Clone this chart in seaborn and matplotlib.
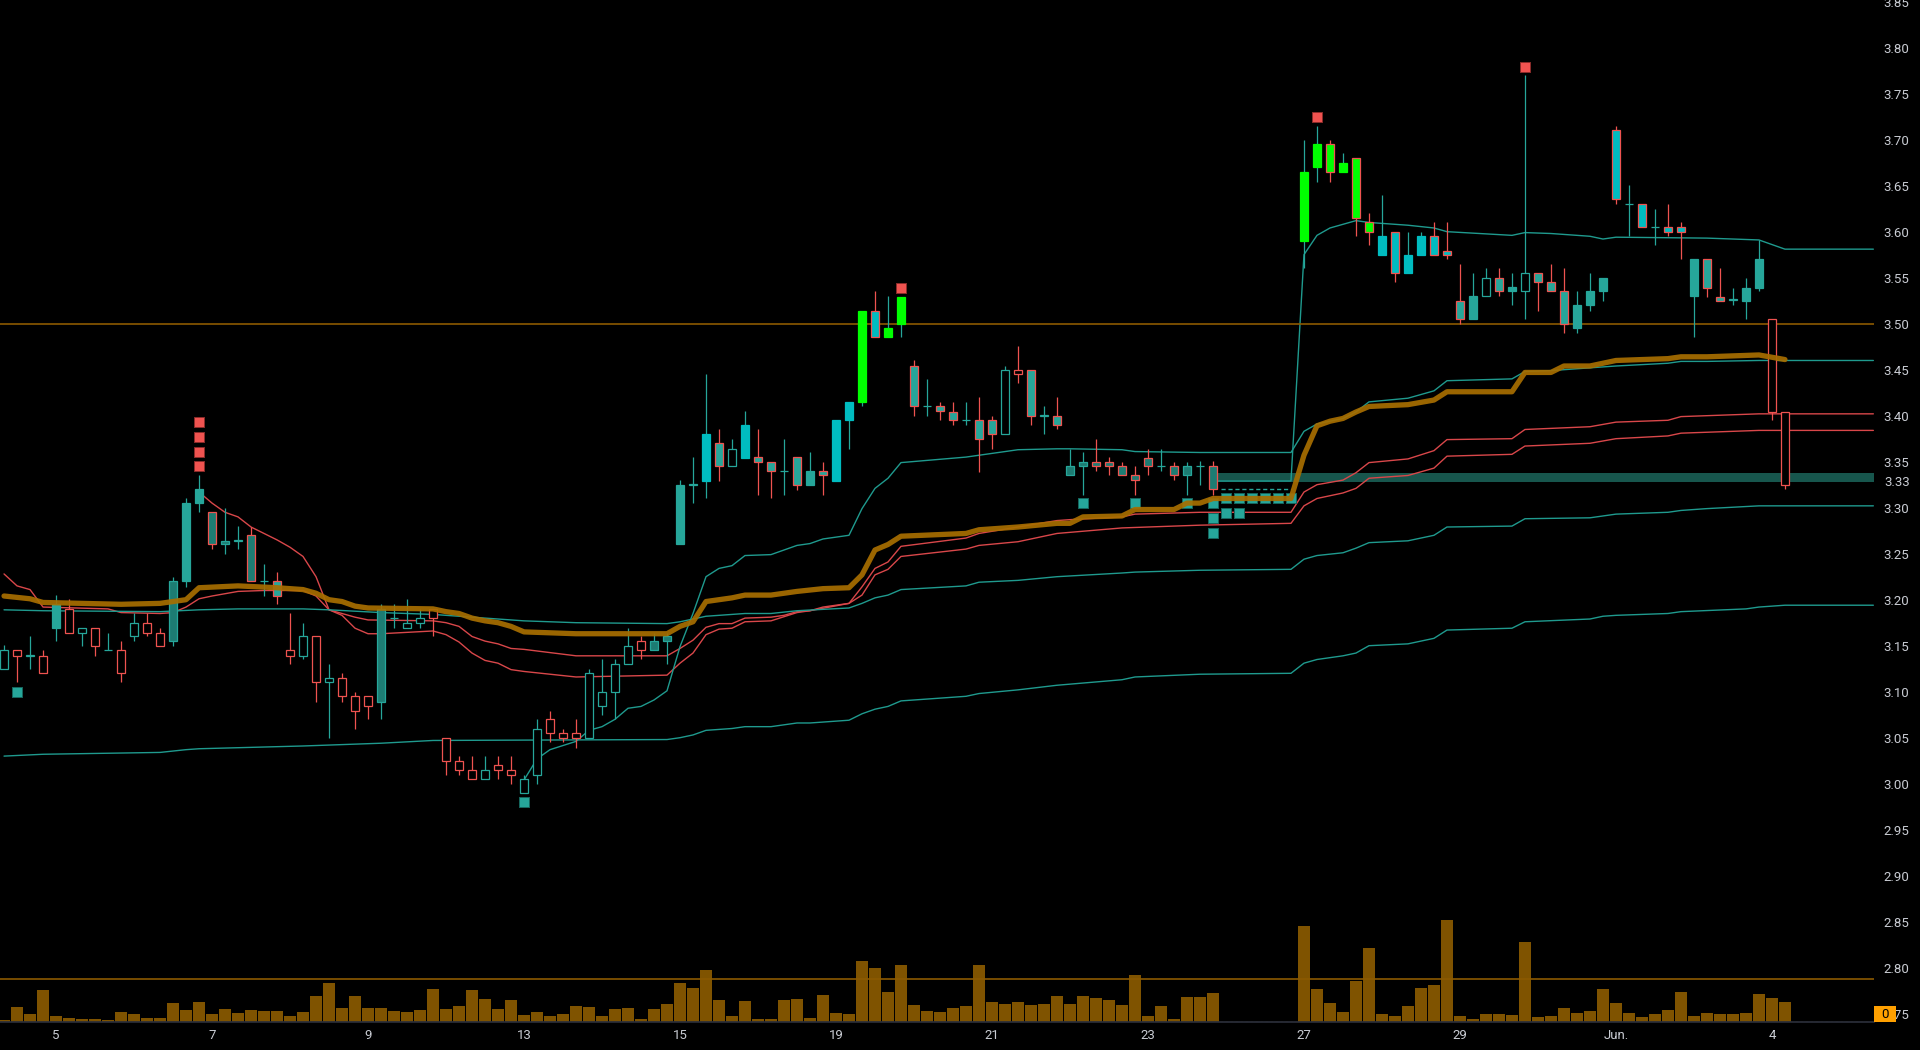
import numpy as np
import pandas as pd
import matplotlib.pyplot as plt
import seaborn as sns
from matplotlib.patches import Rectangle

# bar numbers (bars 94-99 are empty on the chart)
bar_idx = list(range(0, 94)) + list(range(100, 138))

opens = [3.125, 3.139, 3.139, 3.120, 3.169, 3.164, 3.164, 3.150, 3.145, 3.120,
         3.160, 3.164, 3.150, 3.155, 3.220, 3.305, 3.295, 3.260, 3.264, 3.270,
         3.220, 3.220, 3.139, 3.139, 3.110, 3.110, 3.095, 3.079, 3.085, 3.089,
         3.180, 3.169, 3.175, 3.180, 3.025, 3.015, 3.005, 3.005, 3.015, 3.010,
         2.990, 3.010, 3.055, 3.050, 3.050, 3.050, 3.085, 3.100, 3.130, 3.145,
         3.145, 3.155, 3.260, 3.325, 3.329, 3.370, 3.345, 3.354, 3.355, 3.350,
         3.340, 3.355, 3.325, 3.340, 3.329, 3.395, 3.415, 3.514, 3.485, 3.500,
         3.454, 3.410, 3.410, 3.404, 3.395, 3.395, 3.395, 3.380, 3.445, 3.450,
         3.400, 3.400, 3.335, 3.345, 3.350, 3.350, 3.345, 3.335, 3.354, 3.345,
         3.345, 3.335, 3.345, 3.345,
         3.590, 3.670, 3.695, 3.665, 3.680, 3.610, 3.575, 3.600, 3.555, 3.575,
         3.595, 3.579, 3.525, 3.505, 3.530, 3.550, 3.535, 3.535, 3.555, 3.545,
         3.535, 3.495, 3.520, 3.535, 3.711, 3.630, 3.630, 3.605, 3.605, 3.605,
         3.530, 3.570, 3.529, 3.526, 3.525, 3.539, 3.404, 3.325]
closes = [3.145, 3.145, 3.140, 3.139, 3.195, 3.190, 3.169, 3.169, 3.145, 3.145,
          3.175, 3.175, 3.164, 3.220, 3.305, 3.320, 3.260, 3.264, 3.264, 3.220,
          3.220, 3.204, 3.145, 3.160, 3.160, 3.115, 3.115, 3.095, 3.095, 3.190,
          3.180, 3.175, 3.180, 3.190, 3.050, 3.025, 3.015, 3.015, 3.020, 3.015,
          3.005, 3.060, 3.070, 3.055, 3.055, 3.120, 3.100, 3.130, 3.150, 3.155,
          3.155, 3.160, 3.325, 3.325, 3.380, 3.345, 3.364, 3.390, 3.350, 3.340,
          3.340, 3.325, 3.340, 3.335, 3.395, 3.415, 3.514, 3.485, 3.495, 3.529,
          3.410, 3.410, 3.405, 3.395, 3.395, 3.375, 3.380, 3.450, 3.450, 3.400,
          3.400, 3.390, 3.345, 3.350, 3.345, 3.345, 3.335, 3.330, 3.345, 3.345,
          3.335, 3.345, 3.345, 3.320,
          3.665, 3.695, 3.665, 3.675, 3.615, 3.600, 3.595, 3.555, 3.575, 3.595,
          3.575, 3.575, 3.505, 3.530, 3.550, 3.535, 3.540, 3.555, 3.545, 3.535,
          3.500, 3.520, 3.535, 3.550, 3.635, 3.630, 3.605, 3.605, 3.600, 3.600,
          3.570, 3.539, 3.525, 3.526, 3.539, 3.570, 3.505, 3.404]
highs = [3.151, 3.145, 3.160, 3.145, 3.205, 3.201, 3.169, 3.169, 3.164, 3.155,
         3.185, 3.185, 3.169, 3.225, 3.310, 3.336, 3.295, 3.300, 3.280, 3.279,
         3.239, 3.230, 3.185, 3.175, 3.160, 3.130, 3.120, 3.100, 3.095, 3.195,
         3.195, 3.201, 3.190, 3.190, 3.050, 3.030, 3.030, 3.030, 3.030, 3.030,
         3.010, 3.070, 3.079, 3.060, 3.070, 3.125, 3.135, 3.135, 3.169, 3.160,
         3.164, 3.164, 3.330, 3.355, 3.445, 3.385, 3.375, 3.405, 3.385, 3.350,
         3.375, 3.355, 3.360, 3.350, 3.395, 3.415, 3.514, 3.535, 3.530, 3.529,
         3.460, 3.440, 3.415, 3.415, 3.415, 3.420, 3.400, 3.454, 3.476, 3.450,
         3.410, 3.420, 3.364, 3.360, 3.375, 3.355, 3.350, 3.345, 3.364, 3.364,
         3.350, 3.350, 3.351, 3.351,
         3.700, 3.715, 3.700, 3.685, 3.680, 3.620, 3.640, 3.600, 3.600, 3.600,
         3.610, 3.610, 3.565, 3.555, 3.560, 3.560, 3.555, 3.770, 3.555, 3.565,
         3.560, 3.535, 3.555, 3.550, 3.715, 3.651, 3.630, 3.625, 3.630, 3.610,
         3.570, 3.570, 3.560, 3.539, 3.550, 3.591, 3.505, 3.404]
lows = [3.125, 3.110, 3.125, 3.120, 3.155, 3.164, 3.150, 3.139, 3.145, 3.110,
        3.155, 3.160, 3.150, 3.150, 3.214, 3.295, 3.255, 3.250, 3.255, 3.220,
        3.204, 3.195, 3.130, 3.135, 3.089, 3.050, 3.089, 3.060, 3.070, 3.070,
        3.169, 3.169, 3.169, 3.160, 3.010, 3.010, 3.005, 3.005, 3.005, 3.000,
        2.990, 3.000, 3.045, 3.045, 3.039, 3.050, 3.075, 3.070, 3.130, 3.135,
        3.145, 3.130, 3.260, 3.305, 3.310, 3.329, 3.345, 3.354, 3.314, 3.310,
        3.314, 3.319, 3.325, 3.314, 3.329, 3.364, 3.410, 3.485, 3.485, 3.485,
        3.400, 3.400, 3.395, 3.390, 3.390, 3.339, 3.364, 3.380, 3.435, 3.390,
        3.380, 3.385, 3.335, 3.314, 3.340, 3.335, 3.335, 3.314, 3.335, 3.340,
        3.330, 3.314, 3.325, 3.314,
        3.560, 3.654, 3.654, 3.665, 3.595, 3.585, 3.575, 3.545, 3.555, 3.575,
        3.575, 3.570, 3.500, 3.505, 3.530, 3.530, 3.520, 3.505, 3.514, 3.535,
        3.490, 3.490, 3.514, 3.525, 3.630, 3.595, 3.605, 3.585, 3.595, 3.570,
        3.485, 3.529, 3.525, 3.520, 3.505, 3.535, 3.395, 3.320]
# t = teal outline, r = red outline
edge_dir = ("trtrtrtrtr" "trrtttrttr" "trrtrtrrrt" "tttrrrrtrr" "ttrrrttttr"
            "tttttrttrr" "trtrtttrtt" "rtrrtrrtrr" "trttrrrrrt" "rttr"
            "ttrtrrtrtt" "rrrttrttrr" "rtttrtrtrr" "trrtttrr")
# n = hollow, d = dark teal, t = teal, c = cyan, g = lime
body_fill = ("nnnntnnnnn" "nnndttddnd" "ntnnnnnnnd" "nnnnnnnnnn" "nnnnnnnnnn"
             "ddtnctnctt" "ntttccgcgg" "tnttnttnnt" "ntdddddddn" "ddnd"
             "ggggggcccc" "ccttnttntt" "ttttcncncc" "tttnttnn")
volume_k = [5, 44, 23, 95, 17, 11, 8, 8, 5, 29,
            23, 11, 11, 56, 35, 59, 23, 38, 26, 35,
            32, 32, 17, 29, 77, 116, 41, 77, 41, 41,
            32, 29, 35, 98, 38, 47, 95, 68, 38, 65,
            20, 29, 17, 23, 47, 44, 17, 38, 41, 8,
            38, 53, 116, 101, 155, 65, 17, 62, 8, 8,
            65, 68, 11, 80, 26, 23, 182, 161, 89, 170,
            50, 32, 29, 41, 47, 170, 59, 53, 59, 50,
            53, 77, 53, 77, 71, 65, 50, 140, 17, 47,
            8, 74, 74, 86,
            287, 98, 56, 29, 122, 221, 23, 17, 47, 101,
            110, 305, 17, 8, 23, 23, 20, 239, 14, 17,
            41, 26, 32, 98, 56, 26, 14, 23, 35, 89,
            17, 26, 23, 23, 26, 83, 71, 59]

# indicator lines, (bar, price)
vwap = [(0, 3.204), (2, 3.201), (3, 3.197), (9, 3.195), (12, 3.196), (13, 3.198), (14, 3.200),
        (15, 3.213), (18, 3.215), (21, 3.213), (23, 3.211), (24, 3.207), (25, 3.200), (26, 3.198),
        (27, 3.193), (28, 3.191), (33, 3.190), (34, 3.187), (35, 3.185), (36, 3.180), (37, 3.177),
        (38, 3.175), (39, 3.171), (40, 3.165), (44, 3.163), (51, 3.163), (52, 3.171), (53, 3.176),
        (54, 3.198), (56, 3.202), (57, 3.205), (59, 3.205), (61, 3.209), (63, 3.212), (65, 3.213),
        (66, 3.227), (67, 3.254), (68, 3.260), (69, 3.269), (74, 3.272), (75, 3.276), (78, 3.279),
        (81, 3.283), (82, 3.283), (83, 3.290), (86, 3.291), (87, 3.298), (90, 3.298), (91, 3.305),
        (92, 3.305), (93, 3.310), (99, 3.310), (100, 3.357), (101, 3.389), (102, 3.394),
        (103, 3.397), (104, 3.404), (105, 3.410), (108, 3.412), (110, 3.417), (111, 3.426),
        (116, 3.426), (117, 3.447), (119, 3.447), (120, 3.454), (122, 3.454), (124, 3.460),
        (128, 3.462), (129, 3.464), (131, 3.464), (135, 3.466), (137, 3.461)]
red_band_1 = [(0, 3.228), (1, 3.215), (2, 3.211), (3, 3.192), (8, 3.190), (9, 3.186), (12, 3.185),
              (13, 3.186), (14, 3.192), (15, 3.201), (16, 3.204), (18, 3.209), (20, 3.210),
              (23, 3.210), (24, 3.204), (25, 3.189), (26, 3.185), (27, 3.181), (28, 3.178),
              (33, 3.177), (34, 3.175), (35, 3.171), (36, 3.160), (37, 3.155), (38, 3.152),
              (39, 3.147), (40, 3.146), (44, 3.139), (51, 3.139), (52, 3.147), (53, 3.156),
              (54, 3.170), (55, 3.174), (56, 3.174), (57, 3.180), (59, 3.181), (60, 3.183),
              (61, 3.187), (62, 3.188), (63, 3.192), (65, 3.196), (66, 3.214), (67, 3.234),
              (68, 3.241), (69, 3.258), (74, 3.267), (75, 3.272), (78, 3.279), (81, 3.286),
              (82, 3.287), (86, 3.290), (87, 3.293), (92, 3.295), (99, 3.295), (100, 3.317),
              (101, 3.325), (103, 3.330), (104, 3.338), (105, 3.349), (108, 3.353), (110, 3.362),
              (111, 3.374), (116, 3.375), (117, 3.385), (122, 3.388), (124, 3.393), (128, 3.395),
              (129, 3.399), (131, 3.400), (135, 3.402), (143.8, 3.402)]
red_band_2 = [(15, 3.317), (16, 3.305), (17, 3.295), (18, 3.290), (19, 3.279), (20, 3.272),
              (21, 3.265), (22, 3.257), (23, 3.247), (24, 3.225), (25, 3.189), (26, 3.183),
              (27, 3.169), (28, 3.163), (29, 3.163), (33, 3.166), (34, 3.162), (35, 3.154),
              (36, 3.142), (37, 3.134), (38, 3.131), (39, 3.124), (40, 3.122), (44, 3.116),
              (51, 3.118), (52, 3.131), (53, 3.142), (54, 3.162), (55, 3.168), (56, 3.169),
              (57, 3.176), (59, 3.177), (61, 3.186), (62, 3.188), (65, 3.196), (66, 3.205),
              (67, 3.227), (68, 3.233), (69, 3.247), (74, 3.255), (75, 3.259), (78, 3.263),
              (81, 3.272), (86, 3.278), (92, 3.281), (99, 3.283), (100, 3.302), (101, 3.310),
              (103, 3.316), (104, 3.321), (105, 3.332), (108, 3.335), (110, 3.343), (111, 3.356),
              (116, 3.358), (117, 3.367), (122, 3.370), (124, 3.375), (128, 3.378), (129, 3.381),
              (131, 3.382), (135, 3.384), (143.8, 3.384)]
teal_mid = [(0, 3.189), (3, 3.188), (12, 3.187), (15, 3.189), (18, 3.190), (23, 3.190), (25, 3.189),
            (29, 3.186), (33, 3.184), (37, 3.180), (40, 3.177), (44, 3.175), (51, 3.174),
            (52, 3.176), (54, 3.182), (57, 3.185), (59, 3.185), (61, 3.188), (65, 3.191),
            (66, 3.196), (67, 3.202), (68, 3.205), (69, 3.211), (74, 3.215), (75, 3.219),
            (78, 3.221), (81, 3.225), (86, 3.229), (87, 3.230), (92, 3.232), (99, 3.233),
            (100, 3.244), (101, 3.248), (103, 3.251), (104, 3.256), (105, 3.262), (108, 3.264),
            (110, 3.270), (111, 3.279), (116, 3.280), (117, 3.288), (122, 3.289), (124, 3.293),
            (128, 3.295), (129, 3.297), (131, 3.299), (135, 3.302), (143.8, 3.302)]
teal_low = [(0, 3.030), (3, 3.032), (12, 3.034), (14, 3.037), (15, 3.038), (23, 3.041), (29, 3.044),
            (33, 3.047), (51, 3.048), (52, 3.050), (53, 3.053), (54, 3.058), (56, 3.060),
            (57, 3.062), (59, 3.062), (61, 3.066), (62, 3.066), (63, 3.067), (65, 3.069),
            (66, 3.076), (67, 3.081), (68, 3.084), (69, 3.090), (74, 3.095), (75, 3.098),
            (78, 3.102), (81, 3.107), (86, 3.113), (87, 3.116), (92, 3.119), (99, 3.120),
            (100, 3.131), (101, 3.135), (102, 3.137), (103, 3.139), (104, 3.142), (105, 3.150),
            (108, 3.152), (110, 3.158), (111, 3.167), (116, 3.169), (117, 3.176), (122, 3.179),
            (123, 3.182), (124, 3.183), (128, 3.185), (129, 3.187), (134, 3.190), (135, 3.192),
            (137, 3.194), (143.8, 3.194)]
teal_from_low = [(40, 3.004), (41, 3.027), (42, 3.037), (44, 3.046), (45, 3.058), (46, 3.062),
                 (47, 3.070), (48, 3.082), (49, 3.084), (50, 3.091), (51, 3.101), (52, 3.149),
                 (53, 3.185), (54, 3.225), (55, 3.234), (56, 3.237), (57, 3.248), (59, 3.249),
                 (61, 3.259), (62, 3.261), (63, 3.266), (65, 3.270), (66, 3.299), (67, 3.321),
                 (68, 3.332), (69, 3.349), (74, 3.355), (77, 3.361), (78, 3.363), (81, 3.364),
                 (82, 3.364), (86, 3.363), (87, 3.361), (92, 3.360), (99, 3.360), (100, 3.383),
                 (101, 3.391), (102, 3.394), (103, 3.397), (104, 3.404), (105, 3.415), (108, 3.419),
                 (110, 3.427), (111, 3.438), (116, 3.440), (117, 3.448), (119, 3.449), (122, 3.452),
                 (124, 3.454), (128, 3.457), (129, 3.459), (131, 3.459), (135, 3.460), (143.8, 3.460)]
teal_upper = [(93, 3.329), (99, 3.329), (100, 3.575), (101, 3.596), (102, 3.604), (104, 3.612),
              (105, 3.610), (108, 3.607), (110, 3.604), (111, 3.600), (116, 3.596), (117, 3.599),
              (119, 3.598), (122, 3.595), (123, 3.592), (124, 3.594), (131, 3.593), (135, 3.591),
              (137, 3.581), (143.8, 3.581)]

sell_marks = [(15, 3.393), (15, 3.377), (15, 3.361), (15, 3.345), (69, 3.539), (101, 3.725), (117, 3.779)]
buy_marks = [(1, 3.100), (40, 2.980), (83, 3.305), (87, 3.305), (91, 3.305), (93, 3.305), (93, 3.289),
             (93, 3.273), (94, 3.310), (94, 3.294), (95, 3.310), (95, 3.294), (96, 3.310), (97, 3.310),
             (98, 3.310), (99, 3.310)]

level_lines = [3.50, 2.788]
zone_low, zone_high, zone_start = 3.328, 3.338, 93
dash_level, dash_from, dash_to = 3.320, 93.6, 99

tick_pos = [4, 16, 28, 40, 52, 64, 76, 88, 100, 112, 124, 136]
tick_labels = ['5', '7', '9', '13', '15', '19', '21', '23', '27', '29', 'Jun.', '4']

TEAL = '#26a69a'
RED = '#ef5350'
FILL = {'n': '#000000', 'd': '#1d7c73', 't': '#26a69a', 'c': '#00bcc0', 'g': '#00ff00'}
TXT = '#c9ccd3'

sns.set_theme(style='dark', rc={'axes.facecolor': 'black', 'figure.facecolor': 'black',
                                'axes.grid': False})
plt.rcParams['font.family'] = ['Roboto', 'DejaVu Sans']

W, H = 1920, 1050
fig = plt.figure(figsize=(W / 100, H / 100), dpi=100, facecolor='black')
rect = [0, 28 / H, 1874 / W, 1022 / H]
axv = fig.add_axes(rect, zorder=0)
ax = fig.add_axes(rect, zorder=1, sharex=axv)
ax.patch.set_visible(False)
axv.set_facecolor('black')

xmin, xmax = -0.31, 143.85
ymin, ymax = 2.741, 3.8518

# volume
axv.bar(bar_idx, volume_k, width=0.9, color='#7f5300', linewidth=0)
axv.axhline(1.5, color='#a86a08', lw=0.9, ls=(0, (2, 2)))
axv.set_ylim(0, 1022 * 3)
axv.set_xlim(xmin, xmax)
axv.set_axis_off()

# candles
df = pd.DataFrame({'bar': bar_idx, 'open': opens, 'high': highs, 'low': lows, 'close': closes,
                   'dir': list(edge_dir), 'fill': list(body_fill)})
df['bottom'] = df[['open', 'close']].min(axis=1)
df['height'] = (df['open'] - df['close']).abs().clip(lower=0.0004)
faces = [FILL[f] for f in df['fill']]
edges = [RED if d == 'r' else (TEAL if f in 'nd' else FILL[f]) for d, f in zip(df['dir'], df['fill'])]
wicks = [RED if d == 'r' else TEAL for d in df['dir']]

# levels and zone
for lv in level_lines:
    ax.axhline(lv, color='#8c5a00', lw=1.2, zorder=2.2)
ax.fill_between([zone_start, xmax], zone_low, zone_high, color='#17564d', lw=0, zorder=1.5)
ax.hlines(dash_level, dash_from, dash_to, colors=TEAL, lw=1.0, linestyles=(0, (3, 2)), zorder=2)

for pts, col in [(red_band_1, '#d9474a'), (red_band_2, '#d9474a'), (teal_mid, '#1f9a8e'),
                 (teal_low, '#1f9a8e'), (teal_from_low, '#1f9a8e'), (teal_upper, '#1f9a8e')]:
    xs, ys = zip(*pts)
    sns.lineplot(x=list(xs), y=list(ys), ax=ax, color=col, lw=1.0, estimator=None, zorder=2)

ax.vlines(df['bar'], df['low'], df['high'], colors=wicks, lw=0.9, zorder=3)
ax.bar(df['bar'], df['height'], bottom=df['bottom'], width=0.66, color=faces,
       edgecolor=edges, linewidth=0.9, zorder=4)

sx, sy = zip(*sell_marks)
sns.scatterplot(x=list(sx), y=list(sy), ax=ax, marker='s', s=44, color=RED,
                edgecolor='#8a2c2a', linewidth=0.7, zorder=5)
bx, by = zip(*buy_marks)
sns.scatterplot(x=list(bx), y=list(by), ax=ax, marker='s', s=44, color=TEAL,
                edgecolor='#16665e', linewidth=0.7, zorder=5)

vx, vy = zip(*vwap)
sns.lineplot(x=list(vx), y=list(vy), ax=ax, color='#a86e00', lw=3.8, alpha=0.92,
             estimator=None, zorder=6)

ax.set_xlim(xmin, xmax)
ax.set_ylim(ymin, ymax)
ax.set_xlabel('')
ax.set_ylabel('')
ax.yaxis.tick_right()
yt = np.arange(2.75, 3.851, 0.05)
ax.set_yticks(yt)
ax.set_yticklabels([f'{v:.2f}' for v in yt])
ax.set_xticks(tick_pos)
ax.set_xticklabels(tick_labels)
ax.tick_params(axis='y', length=0, pad=7, labelsize=9.5, labelcolor=TXT)
ax.tick_params(axis='x', length=0, pad=5, labelsize=9.5, labelcolor=TXT)
for side in ['top', 'left', 'right']:
    ax.spines[side].set_visible(False)
ax.spines['bottom'].set_color('#2a2e39')
ax.grid(False)

# extra price label for the zone and the volume zero badge
ax.text(1 + 10 / 1874, 3.327, '3.33', transform=ax.get_yaxis_transform(), ha='left',
        va='center', fontsize=9.5, color=TXT)
fig.patches.append(Rectangle((1874 / W, 28 / H), 22 / W, 16 / H, transform=fig.transFigure,
                             facecolor='#ffa000', edgecolor='none', zorder=10))
fig.text(1885 / W, 36 / H, '0', ha='center', va='center', fontsize=9.5, color='black', zorder=11)

fig.savefig('out.png', dpi=100, facecolor='black')
